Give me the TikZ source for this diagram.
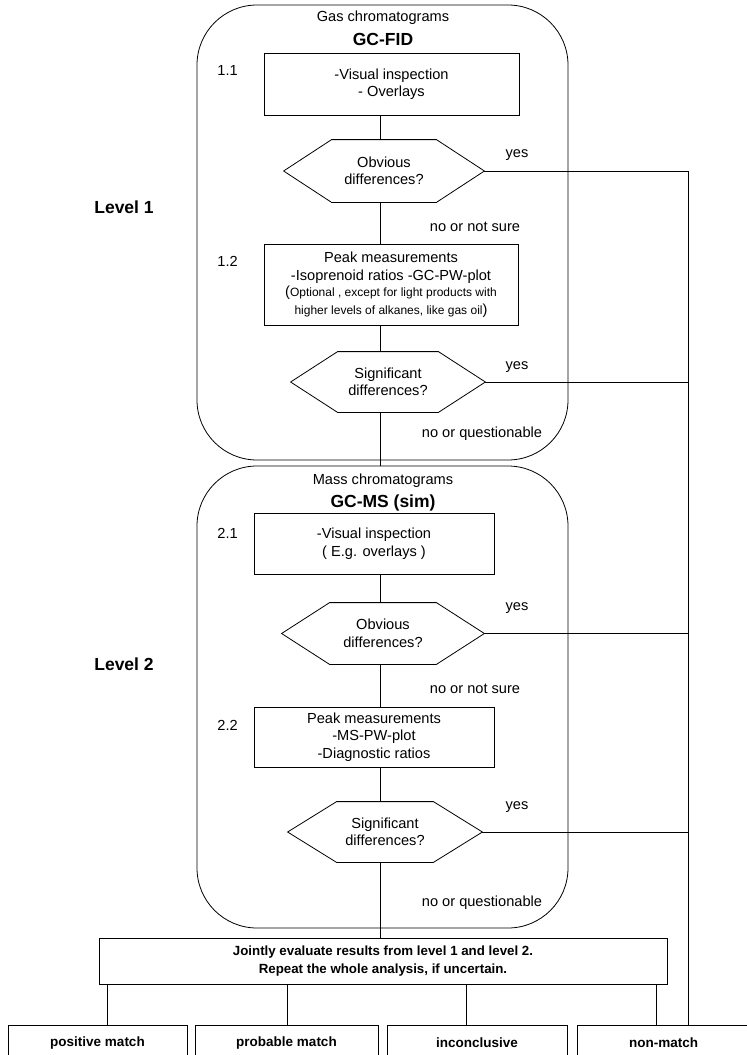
\documentclass[tikz,border=0pt]{standalone}
\usepackage{fontspec}
\setmainfont{Liberation Sans}
\newcommand{\hexdraw}[2][48]{%
  \draw (#2.west) -- ([xshift=#1pt]#2.north west) -- ([xshift=-#1pt]#2.north east) -- (#2.east)
        -- ([xshift=-#1pt]#2.south east) -- ([xshift=#1pt]#2.south west) -- cycle;}
\newcommand{\smallfs}{\fontsize{12}{14.5}\selectfont}
\newcommand{\normfs}{\fontsize{14.6}{14.5}\selectfont}
\begin{document}
\begin{tikzpicture}[x=1pt,y=-1pt,line width=0.8pt,
  every node/.style={font=\fontsize{14.6}{17.5}\selectfont,align=center,inner sep=0pt},
  group/.style={draw,rounded corners=60pt,minimum width=371pt},
  box/.style={draw},
  hexbox/.style={},
  title/.style={font=\bfseries\fontsize{17.5}{20}\selectfont},
  lvl/.style={font=\bfseries\fontsize{17.5}{20}\selectfont},
  outbox/.style={draw,minimum height=36pt,font=\bfseries\fontsize{13.5}{16}\selectfont},
  num/.style={anchor=west}]
\clip (0,0) rectangle (747,1055);
\fill[white] (0,0) rectangle (747,1055);

% groups
\node[group,minimum height=455pt] (g1) at (382.5,232.5) {};
\node[group,minimum height=462pt] (g2) at (382.5,697) {};

% titles
\node (t1) at (383,18) {Gas chromatograms};
\node[title] (t1b) at (383,39) {GC-FID};
\node (t2) at (383,481) {Mass chromatograms};
\node[title] (t2b) at (383,503) {GC-MS (sim)};

% level labels
\node[lvl] (lv1) at (124,207) {Level 1};
\node[lvl] (lv2) at (124,664) {Level 2};

% step numbers
\node[num] (n11) at (217,70) {1.1};
\node[num] (n12) at (217,261) {1.2};
\node[num] (n21) at (217,533) {2.1};
\node[num] (n22) at (217,725) {2.2};

% boxes
\node[box,minimum width=255pt,minimum height=62pt] (b11) at (391.5,84) {-Visual inspection\\- Overlays};
\node[box,minimum width=254pt,minimum height=81pt] (b12) at (391,284.5)
  {Peak measurements\\-Isoprenoid ratios -GC-PW-plot\\[-1pt]
   {\normfs(}\smallfs Optional , except for light products with\\
   {\smallfs higher levels of alkanes, like gas oil}{\normfs)}};
\node[box,minimum width=240pt,minimum height=61pt] (b21) at (374,543.5) {-Visual inspection\\( E.g. overlays )};
\node[box,minimum width=240pt,minimum height=60pt] (b22) at (374,737) {Peak measurements\\-MS-PW-plot\\-Diagnostic ratios};

% hexagons
\node[hexbox,minimum width=200pt,minimum height=62pt] (h1) at (384,171) {Obvious\\differences?};
\hexdraw{h1}
\node[hexbox,minimum width=194pt,minimum height=60pt] (h2) at (388,382) {Significant\\differences?};
\hexdraw[47]{h2}
\node[hexbox,minimum width=202pt,minimum height=61pt] (h3) at (383,633.5) {Obvious\\differences?};
\hexdraw{h3}
\node[hexbox,minimum width=194pt,minimum height=60pt] (h4) at (385,832) {Significant\\differences?};
\hexdraw[49]{h4}

% joint box
\node[box,minimum width=568pt,minimum height=46pt,font=\bfseries\fontsize{13.3}{17.5}\selectfont] (jt) at (383,961)
  {Jointly evaluate results from level 1 and level 2.\\Repeat the whole analysis, if uncertain.};

% outcomes
\node[outbox,minimum width=179pt] (pm) at (97.5,1043) {positive match};
\node[outbox,minimum width=183pt] (prm) at (286.5,1043) {probable match};
\node[outbox,minimum width=180pt] (inc) at (477,1043) {inconclusive};
\node[outbox,minimum width=173pt] (nm) at (663.5,1043) {non-match};

% branch labels
\node (y1) at (517,155) {yes};
\node (y2) at (517,367) {yes};
\node (y3) at (517,608) {yes};
\node (y4) at (517,807) {yes};
\node (no1) at (475,227) {no or not sure};
\node (no2) at (482,434) {no or questionable};
\node (no3) at (475,689) {no or not sure};
\node (no4) at (482,903) {no or questionable};

% spine
\coordinate (sp) at (380,0);
\draw (sp |- b11.south) -- (sp |- h1.north);
\draw (sp |- h1.south) -- (sp |- b12.north);
\draw (sp |- b12.south) -- (sp |- h2.north);
\draw (sp |- h2.south) -- (sp |- g2.north);
\draw (sp |- b21.south) -- (sp |- h3.north);
\draw (sp |- h3.south) -- (sp |- b22.north);
\draw (sp |- b22.south) -- (sp |- h4.north);
\draw (sp |- h4.south) -- (sp |- jt.north);

% rail
\coordinate (rail) at (688.5,0);
\draw (h1.east) -- (rail |- h1.east) -- (rail |- nm.north);
\draw (h2.east) -- (rail |- h2.east);
\draw (h3.east) -- (rail |- h3.east);
\draw (h4.east) -- (rail |- h4.east);

% outcome connectors
\draw ([xshift=9pt]jt.south west) -- ([xshift=9pt]jt.south west |- pm.north);
\draw ([xshift=189pt]jt.south west) -- ([xshift=189pt]jt.south west |- prm.north);
\draw ([xshift=368pt]jt.south west) -- ([xshift=368pt]jt.south west |- inc.north);
\draw ([xshift=558pt]jt.south west) -- ([xshift=558pt]jt.south west |- nm.north);
\end{tikzpicture}
\end{document}
